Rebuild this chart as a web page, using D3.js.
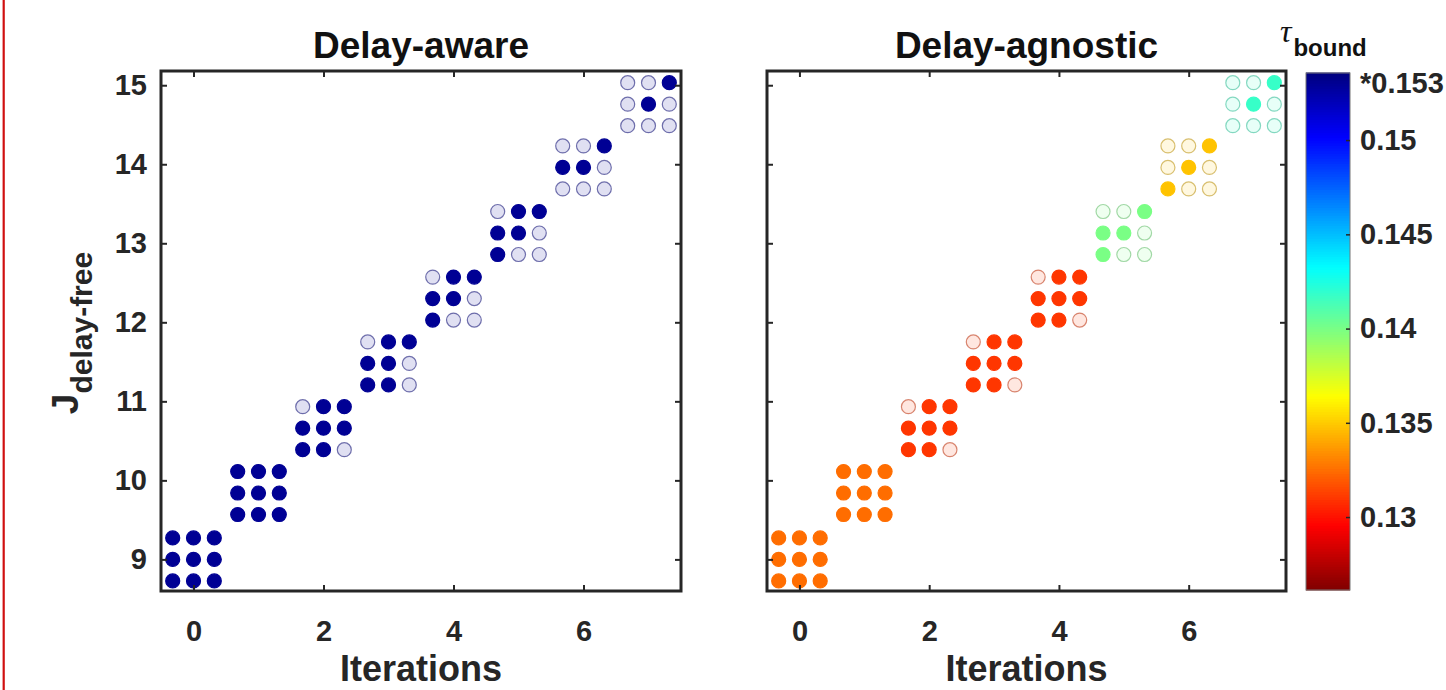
<!DOCTYPE html>
<html>
<head>
<meta charset="utf-8">
<script src="https://cdn.jsdelivr.net/npm/d3@7"></script>
<style>
  body { margin: 0; background: #fff; }
  text { font-family: "Liberation Sans", Arial, sans-serif; }
</style>
</head>
<body>
<div id="chart"></div>
<script>
// iterations and cluster centres (J delay-free)
const iterations = [0, 1, 2, 3, 4, 5, 6, 7];
const jCenter = [9.00, 9.84, 10.66, 11.48, 12.30, 13.13, 13.96, 14.76];

// tau_bound per iteration
const tauAware = [0.153, 0.153, 0.153, 0.153, 0.153, 0.153, 0.153, 0.153];
const tauAgnostic = [0.1325, 0.1325, 0.1310, 0.1310, 0.1310, 0.1400, 0.1348, 0.1418];

// 3x3 grid per iteration, rows top->bottom, 1 = filled, 0 = hollow
const filledAware = ["111111111", "111111111", "011111110", "011110110",
                     "011110100", "011110100", "001110000", "001010000"];
const filledAgnostic = ["111111111", "111111111", "011111110", "011111110",
                        "011111110", "001110100", "001010100", "001010000"];

const xTicks = [0, 2, 4, 6];
const yTicks = [9, 10, 11, 12, 13, 14, 15];
const cbTicks = [0.13, 0.135, 0.14, 0.145, 0.15];
const cbTop = {value: 0.153, label: "*0.153"};
const cbDomain = [0.12613, 0.15356];

const W = 1446, H = 690;
const plotTop = 71, plotBottom = 591;
const panels = [
  {left: 161, right: 681, title: "Delay-aware", tau: tauAware, filled: filledAware, yLabels: true},
  {left: 767, right: 1286, title: "Delay-agnostic", tau: tauAgnostic, filled: filledAgnostic, yLabels: false}
];
const ink = "#262626";

const svg = d3.select("#chart").append("svg")
  .attr("width", W)
  .attr("height", H);

// red edge line from the source crop
svg.append("line")
  .attr("x1", 3.7).attr("x2", 3.7)
  .attr("y1", 0).attr("y2", H)
  .attr("stroke", "#d01010")
  .attr("stroke-width", 2.2);

function jet(t) {
  const f = v => Math.max(0, Math.min(1, v));
  return d3.rgb(255 * f(1.5 - Math.abs(4 * t - 3)),
                255 * f(1.5 - Math.abs(4 * t - 2)),
                255 * f(1.5 - Math.abs(4 * t - 1)));
}
// reversed jet: high tau = dark blue
const color = d3.scaleSequential(t => jet(1 - t)).domain(cbDomain);

const y = d3.scaleLinear().domain([8.6, 15.18]).range([plotBottom, plotTop]);

panels.forEach(p => {
  const x = d3.scaleLinear().domain([-0.5, 7.5]).range([p.left, p.right]);
  const g = svg.append("g");

  // points
  const pts = [];
  iterations.forEach((it, i) => {
    for (let r = 0; r < 3; r++) {
      for (let c = 0; c < 3; c++) {
        pts.push({
          x: it + (c - 1) * 0.32,
          y: jCenter[i] + (1 - r) * 0.272,
          filled: p.filled[i][r * 3 + c] === "1",
          tau: p.tau[i]
        });
      }
    }
  });

  g.selectAll(".pt")
    .data(pts)
    .enter()
    .append("circle")
    .attr("class", "pt")
    .attr("cx", d => x(d.x))
    .attr("cy", d => y(d.y))
    .attr("r", 7)
    .attr("fill", d => color(d.tau))
    .attr("fill-opacity", d => d.filled ? 1 : 0.12)
    .attr("stroke", d => d.filled ? color(d.tau) : d3.interpolateRgb(color(d.tau), "#444")(0.35))
    .attr("stroke-opacity", d => d.filled ? 1 : 0.6)
    .attr("stroke-width", 1.2);

  // axes
  const xb = g.append("g")
    .attr("transform", `translate(0,${plotBottom})`)
    .call(d3.axisBottom(x).tickValues(xTicks).tickSizeInner(-6).tickSizeOuter(0).tickPadding(29));
  const xt = g.append("g")
    .attr("transform", `translate(0,${plotTop})`)
    .call(d3.axisTop(x).tickValues(xTicks).tickSizeInner(-6).tickSizeOuter(0).tickFormat(""));
  const yl = g.append("g")
    .attr("transform", `translate(${p.left},0)`)
    .call(d3.axisLeft(y).tickValues(yTicks).tickSizeInner(-6).tickSizeOuter(0).tickPadding(14)
            .tickFormat(p.yLabels ? d3.format("d") : ""));
  const yr = g.append("g")
    .attr("transform", `translate(${p.right},0)`)
    .call(d3.axisRight(y).tickValues(yTicks).tickSizeInner(-6).tickSizeOuter(0).tickFormat(""));

  [xb, xt, yl, yr].forEach(a => {
    a.select(".domain").remove();
    a.selectAll(".tick line").attr("stroke", ink).attr("stroke-width", 2);
    a.selectAll(".tick text")
     .attr("fill", ink)
     .style("font-size", "29px")
     .style("font-weight", "bold");
  });

  g.append("rect")
    .attr("x", p.left).attr("y", plotTop)
    .attr("width", p.right - p.left)
    .attr("height", plotBottom - plotTop)
    .attr("fill", "none")
    .attr("stroke", ink)
    .attr("stroke-width", 3);

  g.append("text")
    .attr("x", (p.left + p.right) / 2)
    .attr("y", 58)
    .attr("text-anchor", "middle")
    .style("font-size", "37px")
    .style("font-weight", "bold")
    .attr("fill", "#111")
    .text(p.title);

  g.append("text")
    .attr("x", (p.left + p.right) / 2)
    .attr("y", 681)
    .attr("text-anchor", "middle")
    .style("font-size", "36px")
    .style("font-weight", "bold")
    .attr("fill", ink)
    .text("Iterations");
});

// y label with subscript
const yLab = svg.append("text")
  .attr("transform", "translate(78,333) rotate(-90)")
  .attr("text-anchor", "middle")
  .attr("fill", ink)
  .style("font-weight", "bold");
yLab.append("tspan").style("font-size", "37px").text("J");
yLab.append("tspan").style("font-size", "30px").attr("dy", 14).text("delay-free");

// colorbar
const cbX = 1306, cbW = 44;
const cb = d3.scaleLinear().domain(cbDomain).range([590, 73]);
const steps = d3.range(200).map(i => cbDomain[0] + (cbDomain[1] - cbDomain[0]) * i / 200);
const stepH = (cb(cbDomain[0]) - cb(cbDomain[1])) / 200;

svg.append("g").selectAll("rect")
  .data(steps)
  .enter()
  .append("rect")
  .attr("x", cbX)
  .attr("y", d => cb(d) - stepH - 0.5)
  .attr("width", cbW)
  .attr("height", stepH + 1)
  .attr("fill", d => color(d + (cbDomain[1] - cbDomain[0]) / 400));

svg.append("rect")
  .attr("x", cbX).attr("y", 73)
  .attr("width", cbW).attr("height", 517)
  .attr("fill", "none")
  .attr("stroke", "#777")
  .attr("stroke-width", 1);

const cbAxis = svg.append("g")
  .attr("transform", `translate(${cbX + cbW},0)`)
  .call(d3.axisRight(cb).tickValues(cbTicks).tickSizeInner(-4).tickSizeOuter(0).tickPadding(10)
          .tickFormat(d => d3.format("")(+d.toFixed(3))));
cbAxis.select(".domain").remove();
cbAxis.selectAll(".tick line").attr("stroke", ink).attr("stroke-width", 1.5);
cbAxis.selectAll(".tick text")
  .attr("fill", ink)
  .style("font-size", "29px")
  .style("font-weight", "bold");

svg.append("text")
  .attr("x", cbX + cbW + 10)
  .attr("y", cb(cbTop.value))
  .attr("dy", "0.32em")
  .attr("fill", ink)
  .style("font-size", "29px")
  .style("font-weight", "bold")
  .text(cbTop.label);

// colorbar title: tau_bound
const cbTitle = svg.append("text")
  .attr("x", 1280)
  .attr("y", 42)
  .attr("fill", "#111");
cbTitle.append("tspan")
  .style("font-family", "'Liberation Serif', 'Times New Roman', serif")
  .style("font-style", "italic")
  .style("font-size", "32px")
  .text("τ");
cbTitle.append("tspan")
  .attr("dx", 2)
  .attr("dy", 14)
  .style("font-size", "24px")
  .style("font-weight", "bold")
  .text("bound");
</script>
</body>
</html>
